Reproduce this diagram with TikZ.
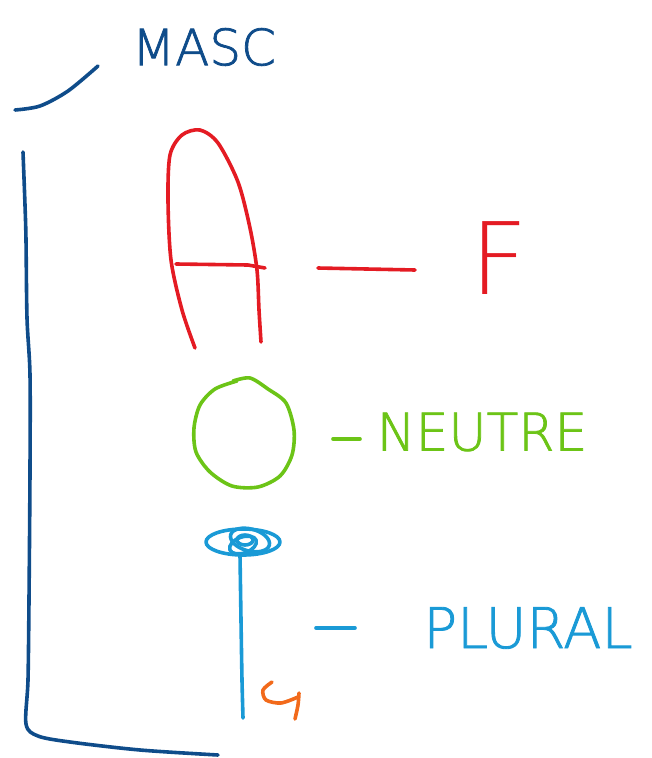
\documentclass[tikz,border=0pt]{standalone}
\usepackage{fontspec}
\newfontfamily\hand[FakeBold=1.5]{DejaVu Sans ExtraLight}
\newfontfamily\handthin{DejaVu Sans ExtraLight}
\definecolor{dblue}{HTML}{0F4C8A}
\definecolor{hred}{HTML}{E41B23}
\definecolor{hgreen}{HTML}{6CC417}
\definecolor{lblue}{HTML}{1A9AD6}
\definecolor{horange}{HTML}{F26A1B}
\tikzset{
  pen/.style={line width=3.6pt, line cap=round, line join=round},
  word/.style={inner sep=0pt},
}
\begin{document}
\begin{tikzpicture}[x=1pt,y=-1pt]
\useasboundingbox (0,0) rectangle (651,758);
% bracket (blue)
\draw[pen,dblue] plot[smooth] coordinates {(15,110) (40,106) (68,91) (98,66)};
\draw[pen,dblue] plot[smooth,tension=0.5] coordinates {(23,152) (25,205) (26,240) (27,318) (30,375) (30,470) (29,600) (28,680) (26,724) (38,736) (70,742) (140,750) (218,755)};
\node[word,dblue,font=\hand\fontsize{50}{60}\selectfont] (masc) at (204,47) {MASC};
% A (red)
\draw[pen,hred] plot[smooth] coordinates {(195,348) (182,310) (171,260) (168,200) (170,155) (182,135) (200,130) (218,143) (238,182) (250,228) (257,270) (259,310) (261,342)};
\draw[pen,hred] (176,264) -- (248,265) -- (265,268);
\coordinate (da1) at (318,268); \coordinate (da2) at (415,270);
\draw[pen,hred] (da1) -- (da2);
\node[word,hred,font=\handthin\fontsize{100}{110}\selectfont] (fem) at (499,258) {F};
% O (green)
\draw[pen,hgreen] plot[smooth] coordinates {(233,381) (250,378) (268,389) (286,403) (294,430) (292,455) (280,476) (258,487) (232,486) (210,472) (196,452) (194,428) (200,405) (215,389) (237,381)};
\coordinate (dn1) at (333,439); \coordinate (dn2) at (360,439);
\draw[pen,hgreen] (dn1) -- (dn2);
\node[word,hgreen,font=\hand\fontsize{52}{60}\selectfont] (neutre) at (482,432) {NEUTRE};
% I (light blue)
\draw[pen,lblue] plot[smooth] coordinates {(240,555) (241,620) (242,680) (243,718)};
\draw[pen,lblue] (243,542) ellipse [x radius=37, y radius=13];
\draw[pen,lblue,rotate around={-15:(250,540)}] (250,540) ellipse [x radius=20, y radius=11];
\draw[pen,lblue,rotate around={20:(243,545)}] (243,545) ellipse [x radius=14, y radius=8];
\draw[pen,lblue] (245,540) ellipse [x radius=8, y radius=5];
\coordinate (dp1) at (316,628); \coordinate (dp2) at (355,628);
\draw[pen,lblue] (dp1) -- (dp2);
\node[word,lblue,font=\hand\fontsize{56}{60}\selectfont] (plural) at (528,628) {PLURAL};
% orange mark
\draw[pen,horange] plot[smooth] coordinates {(272,682) (263,690) (266,700) (281,703) (298,697)};
\draw[pen,horange] plot[smooth] coordinates {(299,693) (298,705) (295,719)};
\end{tikzpicture}
\end{document}
